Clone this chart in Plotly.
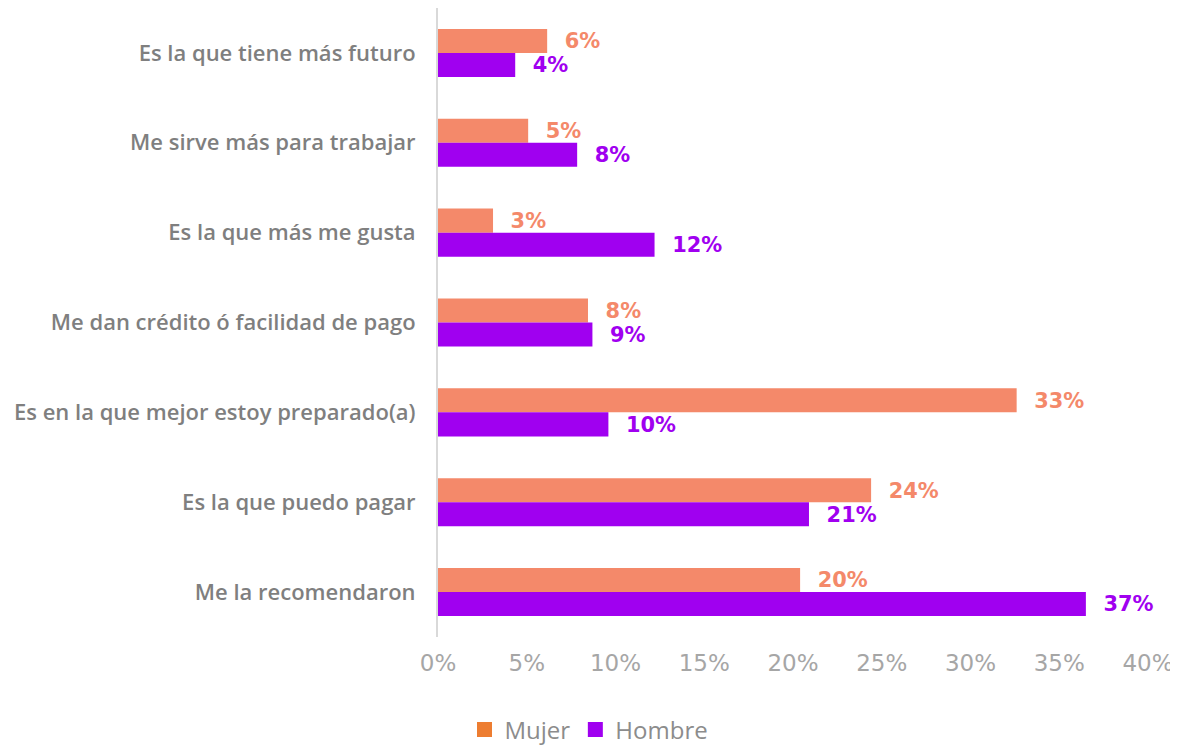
import plotly.graph_objects as go

categories = [
    "Es la que tiene más futuro",
    "Me sirve más para trabajar",
    "Es la que más me gusta",
    "Me dan crédito ó facilidad de pago",
    "Es en la que mejor estoy preparado(a)",
    "Es la que puedo pagar",
    "Me la recomendaron",
]
mujer = [6.15, 5.08, 3.1, 8.45, 32.6, 24.4, 20.4]
hombre = [4.35, 7.84, 12.2, 8.7, 9.6, 20.9, 36.5]
mujer_labels = ["6%", "5%", "3%", "8%", "33%", "24%", "20%"]
hombre_labels = ["4%", "8%", "12%", "9%", "10%", "21%", "37%"]
x_ticks = [0, 5, 10, 15, 20, 25, 30, 35, 40]
x_tick_labels = ["0%", "5%", "10%", "15%", "20%", "25%", "30%", "35%", "40%"]

MUJER_BAR = "#F4896A"
MUJER_LEG = "#ED7D31"
HOMBRE = "#A000F0"
PAD = "\u00a0\u00a0"
LABEL_FONT = "DejaVu Sans"

# The page places the figure 8px from the top-left corner (body margin),
# so the figure is sized 8px smaller and margins are shifted accordingly.
W, H = 1170, 740

fig = go.Figure()
fig.add_trace(go.Bar(
    y=categories, x=mujer, orientation="h", name="Mujer",
    marker=dict(color=MUJER_BAR, line=dict(width=0)),
    text=[PAD + t for t in mujer_labels], textposition="outside",
    textfont=dict(color=MUJER_BAR, size=27, family=LABEL_FONT, weight="bold"),
    cliponaxis=False, showlegend=False,
))
fig.add_trace(go.Bar(
    y=categories, x=hombre, orientation="h", name="Hombre",
    marker=dict(color=HOMBRE, line=dict(width=0)),
    text=[PAD + t for t in hombre_labels], textposition="outside",
    textfont=dict(color=HOMBRE, size=27, family=LABEL_FONT, weight="bold"),
    cliponaxis=False, showlegend=False,
))
# legend entries
fig.add_trace(go.Scatter(x=[None], y=[None], mode="markers", name="Mujer",
                         marker=dict(symbol="square", size=15, color=MUJER_LEG)))
fig.add_trace(go.Scatter(x=[None], y=[None], mode="markers", name="Hombre",
                         marker=dict(symbol="square", size=15, color=HOMBRE)))

fig.update_layout(
    width=W, height=H,
    margin=dict(l=430, r=30, t=0, b=111),
    plot_bgcolor="white", paper_bgcolor="white",
    barmode="group", bargap=0.465, bargroupgap=0,
    legend=dict(orientation="h", x=581 / W, xref="container", xanchor="center",
                y=1 - 722 / H, yref="container", yanchor="middle",
                font=dict(size=24, color="#8C8C8C", family="Open Sans"),
                itemwidth=30, traceorder="normal"),
    font=dict(family="Open Sans"),
)
fig.update_xaxes(
    range=[0, 40], tickvals=x_ticks, ticktext=x_tick_labels,
    showgrid=False, zeroline=False, showline=False, ticks="",
    tickfont=dict(size=23, color="#A6A6A6", family="DejaVu Sans"),
    ticklabelstandoff=10, automargin=False,
)
fig.update_yaxes(
    categoryorder="array", categoryarray=categories, autorange="reversed",
    showgrid=False, zeroline=False, showline=True, linecolor="#D9D9D9", linewidth=2,
    ticks="", ticklabelstandoff=16, automargin=False,
    tickfont=dict(size=22, color="#7F7F7F", family="Open Sans", weight=600),
)

fig.write_html("out.html")
